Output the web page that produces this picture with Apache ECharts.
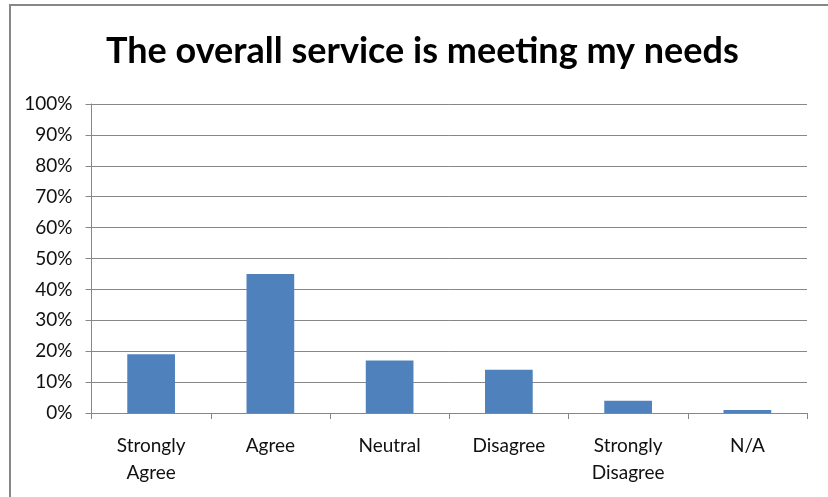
<!DOCTYPE html>
<html>
<head>
<meta charset="utf-8">
<script src="https://cdn.jsdelivr.net/npm/echarts@6/dist/echarts.min.js"></script>
<style>
  html, body { margin: 0; padding: 0; background: #ffffff; }
  #chart { width: 828px; height: 497px; }
</style>
</head>
<body>
<div id="chart"></div>
<script>
// Survey responses: share of respondents per answer
const categories = ['Strongly\nAgree', 'Agree', 'Neutral', 'Disagree', 'Strongly\nDisagree', 'N/A'];
const shares = [19, 45, 17, 14, 4, 1];
const yTicks = [0, 10, 20, 30, 40, 50, 60, 70, 80, 90, 100];

const lineGray = '#878787';
const textColor = '#111111';
const fontFamily = 'Lato, "Open Sans", sans-serif';

const chart = echarts.init(document.getElementById('chart'));
chart.setOption({
  animation: false,
  title: {
    text: 'The overall service is meeting my needs',
    left: 101,
    top: 28,
    textStyle: { fontFamily: fontFamily, fontWeight: 'bold', fontSize: 36, color: '#000000' }
  },
  graphic: [{
    type: 'rect',
    shape: { x: 10, y: 5, width: 840, height: 520 },
    style: { fill: 'none', stroke: lineGray, lineWidth: 2 },
    silent: true
  }],
  grid: { left: 91.5, right: 21, top: 104, bottom: 84, containLabel: false },
  xAxis: {
    type: 'category',
    data: categories,
    boundaryGap: true,
    axisLine: { lineStyle: { color: lineGray, width: 1 } },
    axisTick: { show: true, length: 6, alignWithLabel: false, lineStyle: { color: lineGray } },
    axisLabel: {
      color: textColor, fontFamily: fontFamily, fontSize: 19,
      lineHeight: 27, margin: 19, interval: 0
    }
  },
  yAxis: {
    type: 'value',
    min: yTicks[0],
    max: yTicks[yTicks.length - 1],
    interval: 10,
    axisLine: { show: true, lineStyle: { color: lineGray, width: 1 } },
    axisTick: { show: true, length: 6, lineStyle: { color: lineGray } },
    splitLine: { show: true, lineStyle: { color: lineGray, width: 1 } },
    axisLabel: {
      color: textColor, fontFamily: fontFamily, fontSize: 19, margin: 19,
      formatter: v => v + '%'
    }
  },
  series: [{
    type: 'bar',
    data: shares,
    barWidth: '40%',
    itemStyle: { color: '#4F81BD' }
  }]
});
</script>
</body>
</html>
